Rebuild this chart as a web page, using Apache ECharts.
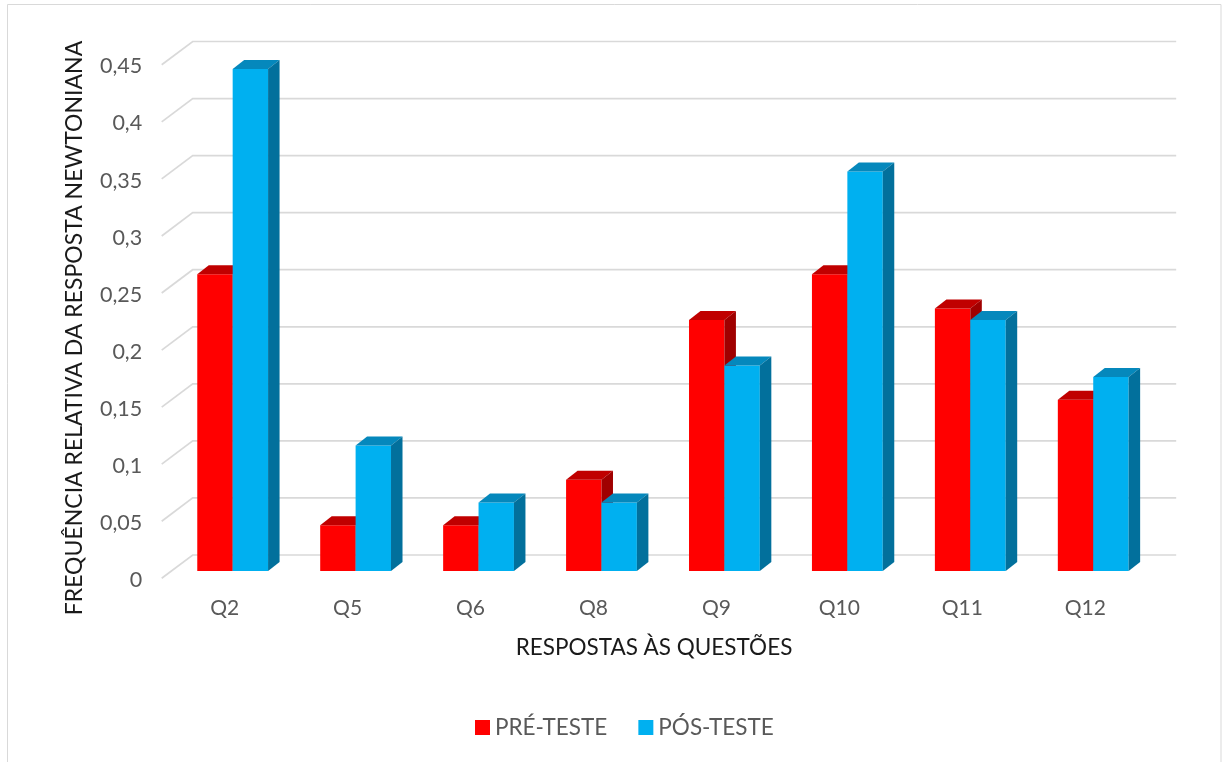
<!DOCTYPE html>
<html>
<head>
<meta charset="utf-8">
<script src="https://cdn.jsdelivr.net/npm/echarts@6/dist/echarts.min.js"></script>
<style>
  html, body { margin: 0; padding: 0; background: #ffffff; }
  #chart { width: 1225px; height: 762px; }
</style>
</head>
<body>
<div id="chart"></div>
<script>
// Questions on the horizontal axis
const categories = ['Q2', 'Q5', 'Q6', 'Q8', 'Q9', 'Q10', 'Q11', 'Q12'];
// Relative frequency of the Newtonian answer, before and after the teaching sequence
const preTest = [0.26, 0.04, 0.04, 0.08, 0.22, 0.26, 0.23, 0.15];
const postTest = [0.44, 0.11, 0.06, 0.06, 0.18, 0.35, 0.22, 0.17];
const seriesNames = ['PRÉ-TESTE', 'PÓS-TESTE'];
// Value-axis ticks (back-wall gridlines)
const yTicks = [0, 0.05, 0.1, 0.15, 0.2, 0.25, 0.3, 0.35, 0.4, 0.45];

const xTitle = 'RESPOSTAS ÀS QUESTÕES';
const yTitle = 'FREQUÊNCIA RELATIVA DA RESPOSTA NEWTONIANA';

// Pseudo-3D projection offsets (pixels)
const WALL_DX = 21.5, WALL_DY = 16;   // front plane -> back wall
const FLOOR_DX = 9.5, FLOOR_DY = 7.3; // front plane -> front edge of floor
const BAR_DX = 11.5, BAR_DY = 9;      // bar depth
const BAR_RATIO = 0.288;              // bar width relative to category band

const FONT = 'Lato, "Open Sans", sans-serif';

const faces = [
  { front: '#FF0000', top: '#C00000', side: '#A00000' },
  { front: '#00B0F0', top: '#0588BC', side: '#02709C' }
];

function barRenderer(slot) {
  const f = faces[slot];
  return function (params, api) {
    const idx = api.value(0);
    const v = api.value(1);
    const top = api.coord([idx, v]);
    const base = api.coord([idx, 0]);
    const band = api.size([1, 0])[0];
    const w = band * BAR_RATIO;
    const x0 = top[0] + (slot === 0 ? -w : 0);
    const x1 = x0 + w;
    const yt = top[1], yb = base[1];
    return {
      type: 'group',
      children: [
        { type: 'rect', shape: { x: x0, y: yt, width: w, height: yb - yt }, style: { fill: f.front } },
        { type: 'polygon', shape: { points: [[x0, yt], [x1, yt], [x1 + BAR_DX, yt - BAR_DY], [x0 + BAR_DX, yt - BAR_DY]] }, style: { fill: f.top } },
        { type: 'polygon', shape: { points: [[x1, yt], [x1 + BAR_DX, yt - BAR_DY], [x1 + BAR_DX, yb - BAR_DY], [x1, yb]] }, style: { fill: f.side } }
      ]
    };
  };
}

function gridRenderer(params, api) {
  const v = api.value(1);
  const p = api.coord([0, v]);
  const band = api.size([1, 0])[0];
  const left = p[0] - band / 2;
  const right = left + categories.length * band;
  return {
    type: 'polyline',
    silent: true,
    shape: {
      points: [
        [left - FLOOR_DX, p[1] + FLOOR_DY],
        [left + WALL_DX, p[1] - WALL_DY],
        [right + WALL_DX, p[1] - WALL_DY]
      ]
    },
    style: { stroke: '#D9D9D9', lineWidth: 1.7, fill: null }
  };
}

const chart = echarts.init(document.getElementById('chart'), null, { renderer: 'canvas' });

chart.setOption({
  backgroundColor: '#ffffff',
  animation: false,
  textStyle: { fontFamily: FONT },
  grid: { left: 171.2, right: 70.3, top: 57.5, bottom: 191 },
  xAxis: {
    type: 'category',
    data: categories,
    axisLine: { show: false },
    axisTick: { show: false },
    splitLine: { show: false },
    axisLabel: { color: '#595959', fontSize: 21, fontFamily: FONT, margin: 27, padding: [0, 16, 0, 0] }
  },
  yAxis: {
    type: 'value',
    min: 0,
    max: 0.45,
    interval: 0.05,
    axisLine: { show: false },
    axisTick: { show: false },
    splitLine: { show: false },
    axisLabel: {
      color: '#595959', fontSize: 21.5, fontFamily: FONT, margin: 29,
      verticalAlign: 'top', lineHeight: 18,
      formatter: v => String(+v.toFixed(2)).replace('.', ',')
    }
  },
  legend: {
    data: seriesNames,
    top: 711,
    left: 470,
    icon: 'rect',
    itemWidth: 15,
    itemHeight: 15,
    itemGap: 31,
    textStyle: { color: '#595959', fontSize: 22.5, fontFamily: FONT }
  },
  graphic: [
    {
      type: 'rect', silent: true, z: -1,
      shape: { x: 7.5, y: 4.5, width: 1213.5, height: 800 },
      style: { fill: null, stroke: '#D9D9D9', lineWidth: 1 }
    },
    {
      type: 'text', silent: true,
      x: 654, y: 648,
      style: { text: xTitle, fill: '#1a1a1a', font: '22.5px ' + FONT, align: 'center', verticalAlign: 'middle' }
    },
    {
      type: 'text', silent: true,
      x: 75, y: 328, rotation: Math.PI / 2,
      style: { text: yTitle, fill: '#1a1a1a', font: '23px ' + FONT, align: 'center', verticalAlign: 'middle' }
    }
  ],
  series: [
    {
      type: 'custom', name: 'grid', silent: true, clip: false, z: 1,
      renderItem: gridRenderer,
      encode: { x: 0, y: 1 },
      data: yTicks.map(v => [0, v])
    },
    {
      type: 'custom', name: seriesNames[0], clip: false, z: 2,
      itemStyle: { color: faces[0].front },
      renderItem: barRenderer(0),
      encode: { x: 0, y: 1 },
      data: preTest.map((v, i) => [i, v])
    },
    {
      type: 'custom', name: seriesNames[1], clip: false, z: 3,
      itemStyle: { color: faces[1].front },
      renderItem: barRenderer(1),
      encode: { x: 0, y: 1 },
      data: postTest.map((v, i) => [i, v])
    }
  ]
});
</script>
</body>
</html>
